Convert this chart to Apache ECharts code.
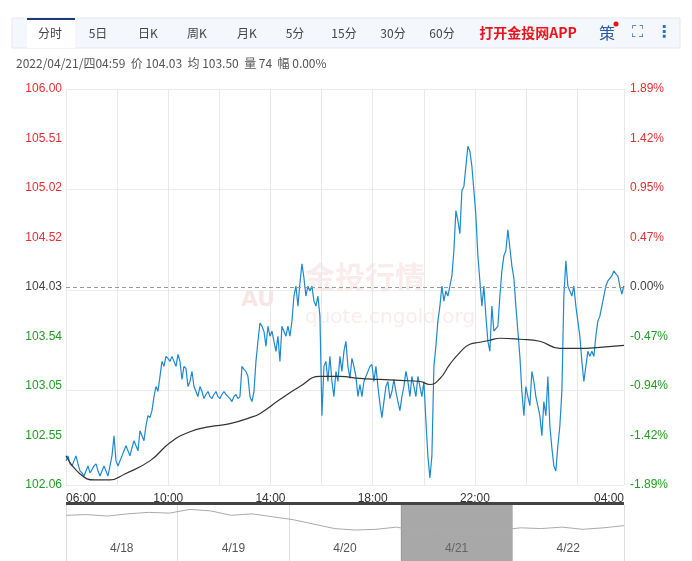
<!DOCTYPE html>
<html><head><meta charset="utf-8">
<script src="https://cdn.jsdelivr.net/npm/echarts@6/dist/echarts.min.js"></script>
<style>html,body{margin:0;padding:0;background:#fff}#c{width:692px;height:561px}</style>
</head><body><div id="c"></div>
<script>
var basePrice = 104.03;
var yTicks = [102.06,102.55,103.05,103.54,104.03,104.52,105.02,105.51,106.00];
var xTickMinutes = [0,240,480,720,960,1310];
var xTickLabels = ['06:00','10:00','14:00','18:00','22:00','04:00'];
var sampleStepMin = 4.694;
var prices = [102.30,102.35,102.27,102.25,102.30,102.35,102.27,102.20,102.18,102.15,102.20,102.25,102.18,102.18,102.25,102.27,102.20,102.15,102.20,102.25,102.20,102.15,102.25,102.35,102.55,102.30,102.25,102.30,102.35,102.40,102.45,102.40,102.35,102.43,102.50,102.45,102.40,102.60,102.55,102.50,102.65,102.75,102.73,102.80,102.94,103.04,102.99,103.14,103.29,103.24,103.34,103.32,103.29,103.34,103.29,103.24,103.36,103.29,103.11,103.24,103.22,103.04,103.09,103.19,103.04,102.99,102.94,103.04,102.99,102.92,102.96,102.99,102.94,102.92,102.96,102.99,102.94,102.92,102.96,102.99,102.96,102.94,102.92,102.89,102.94,102.96,102.92,102.94,103.24,103.21,103.19,103.14,102.94,102.89,102.99,103.29,103.49,103.67,103.64,103.59,103.44,103.64,103.54,103.59,103.49,103.39,103.54,103.29,103.64,103.59,103.54,103.64,103.54,103.69,103.94,104.04,103.84,104.07,104.26,104.12,103.94,104.04,103.99,104.04,103.89,103.84,103.94,103.74,102.75,103.24,103.29,103.09,103.34,103.09,102.94,103.19,103.09,103.34,103.19,103.39,103.49,103.24,103.12,103.32,103.24,103.14,102.94,103.06,102.94,103.09,103.14,103.19,103.24,103.26,103.09,103.24,103.04,102.87,102.73,102.89,103.04,103.09,102.92,102.99,103.11,102.99,102.89,102.80,102.94,103.04,103.19,103.09,102.94,103.14,103.04,102.94,103.14,103.04,102.94,103.09,102.70,102.35,102.13,102.35,103.24,103.44,103.69,103.84,104.04,103.89,103.99,103.94,104.04,104.14,104.39,104.79,104.69,104.56,104.99,105.03,105.23,105.43,105.38,105.23,104.99,104.74,104.34,104.09,103.84,104.04,103.74,103.49,103.39,103.84,103.59,103.59,103.64,103.94,104.19,104.34,104.39,104.60,104.42,104.24,104.12,103.84,103.59,103.34,102.99,102.75,103.04,102.94,102.85,103.19,103.09,102.94,102.94,102.75,102.55,102.89,102.75,103.14,102.65,102.43,102.25,102.20,102.45,102.65,102.99,103.94,104.29,104.04,103.99,103.94,104.04,103.84,103.69,103.54,103.29,103.09,103.24,103.39,103.34,103.39,103.34,103.54,103.69,103.74,103.84,103.94,104.04,104.09,104.09,104.14,104.19,104.16,104.14,104.04,103.96,104.04];
var avgMinutes = [0,33,68,103,138,197,244,291,338,385,432,455,502,549,596,643,690,737,784,831,854,878,901,925,948,972,995,1019,1066,1112,1159,1206,1253,1310];
var avgPrices = [102.35,102.17,102.11,102.11,102.17,102.30,102.48,102.59,102.64,102.67,102.73,102.77,102.91,103.04,103.14,103.14,103.12,103.11,103.10,103.09,103.06,103.12,103.26,103.38,103.46,103.48,103.50,103.52,103.51,103.49,103.42,103.42,103.43,103.45];
var navDays = ['4/18','4/19','4/20','4/21','4/22'];
var navPrices = [104.9,104.95,104.85,105.0,105.1,105.05,105.3,105.2,104.9,105.0,104.8,104.6,104.3,104.0,103.9,103.95,104.1,103.8,104.0,103.7,103.85,103.9,104.05,104.0,104.1,103.95,104.05,104.2];

var priceData = prices.map(function(p,i){return [i*sampleStepMin,p];});
var avgData = avgMinutes.map(function(m,i){return [m,avgPrices[i]];});
var navData = navPrices.map(function(p,i){return [i*5/(navPrices.length-1),p];});
function col(v){var d=Math.round((v-basePrice)*100);return d>0?'#e03030':(d<0?'#1e9e1e':'#444');}

var chart = echarts.init(document.getElementById('c'));
var font='"Microsoft YaHei","Noto Sans CJK SC",sans-serif';
var tabs=[['分时',50],['5日',98],['日K',148],['周K',197],['月K',247],['5分',295],['15分',344],['30分',393],['60分',442]];
var g=[{type:'rect',shape:{x:12,y:18,width:668,height:30},style:{fill:'#f4f7fb',stroke:'#e4e9f0'}},
 {type:'rect',shape:{x:27,y:19,width:48,height:29},style:{fill:'#fff'}},
 {type:'rect',shape:{x:27,y:18,width:48,height:2},style:{fill:'#1a3a7a'}}];
tabs.forEach(function(t){g.push({type:'text',x:t[1],y:33,style:{text:t[0],fill:'#444',font:'12px '+font,align:'center',verticalAlign:'middle'}});});
g.push({type:'text',x:528,y:33,style:{text:'打开金投网APP',fill:'#e8141b',font:'bold 14px '+font,align:'center',verticalAlign:'middle'}});
g.push({type:'text',x:607,y:33,style:{text:'策',fill:'#2a5aa8',font:'16px '+font,align:'center',verticalAlign:'middle'}});
g.push({type:'circle',shape:{cx:616,cy:24,r:2.5},style:{fill:'#e8141b'}});
g.push({type:'text',x:637,y:33,style:{text:'⛶',fill:'#2a6fc0',font:'16px "DejaVu Sans"',align:'center',verticalAlign:'middle'}});
g.push({type:'text',x:664,y:33,style:{text:'⋮',fill:'#2a6fc0',font:'bold 16px "DejaVu Sans"',align:'center',verticalAlign:'middle'}});
g.push({type:'text',x:16,y:63,style:{text:'2022/04/21/四04:59  价 104.03  均 103.50  量 74  幅 0.00%',fill:'#555',font:'12px '+font,verticalAlign:'middle'}});
g.push({type:'text',x:305,y:277,style:{text:'金投行情',fill:'rgba(230,150,150,0.18)',font:'bold 30px '+font,verticalAlign:'middle'}});
g.push({type:'text',x:305,y:318,style:{text:'quote.cngold.org',fill:'rgba(230,150,150,0.18)',font:'20px "DejaVu Sans"',verticalAlign:'middle'}});
g.push({type:'text',x:258,y:300,style:{text:'AU',fill:'rgba(230,150,150,0.25)',font:'bold 22px "DejaVu Sans"',align:'center',verticalAlign:'middle'}});
g.push({type:'rect',shape:{x:66,y:502,width:558,height:3},style:{fill:'#444'}});

chart.setOption({
 animation:false,
 graphic:g,
 grid:[{left:66,right:68,top:89,bottom:76,outerBoundsMode:'none'},{left:66,right:68,top:505,bottom:0,outerBoundsMode:'none'}],
 xAxis:[{type:'value',min:0,max:1310,interval:120,gridIndex:0,
   axisLine:{show:false},axisTick:{show:false},
   splitLine:{show:true,lineStyle:{color:'#e8e8e8'}},
   axisLabel:{customValues:xTickMinutes,color:'#333',fontSize:12,margin:8,alignMinLabel:'left',alignMaxLabel:'right',
     formatter:function(v){var i=xTickMinutes.indexOf(v);return i>=0?xTickLabels[i]:'';}}},
  {type:'value',min:0,max:5,interval:1,gridIndex:1,axisLine:{show:false},axisTick:{show:false},
   splitLine:{show:true,lineStyle:{color:'#ddd'}},
   axisLabel:{inside:true,customValues:[0.5,1.5,2.5,3.5,4.5],color:'#555',fontSize:12,margin:6,
     formatter:function(v){return navDays[Math.floor(v)];}}}],
 yAxis:[{type:'value',min:102.06,max:106.00,gridIndex:0,position:'left',
   axisLine:{show:false},axisTick:{show:false},
   splitLine:{show:true,lineStyle:{color:'#ececec'}},
   axisLabel:{customValues:yTicks,fontSize:12,margin:4,formatter:function(v){return v.toFixed(2);},color:function(v){return col(+v);}}},
  {type:'value',min:102.06,max:106.00,gridIndex:0,position:'right',
   axisLine:{show:false},axisTick:{show:false},splitLine:{show:false},
   axisLabel:{customValues:yTicks,fontSize:12,margin:6,color:function(v){return col(+v);},
    formatter:function(v){return ((v-basePrice)/basePrice*100).toFixed(2)+'%';}}},
  {type:'value',gridIndex:1,min:101.8,max:105.6,show:false}],
 series:[
  {type:'line',data:priceData,showSymbol:false,lineStyle:{color:'#1e88d0',width:1.2},
   markLine:{silent:true,symbol:'none',label:{show:false},lineStyle:{color:'#999',type:[4,3],width:1},data:[{yAxis:basePrice}]}},
  {type:'line',data:avgData,showSymbol:false,smooth:true,lineStyle:{color:'#333',width:1.2}},
  {type:'line',data:navData,xAxisIndex:1,yAxisIndex:2,showSymbol:false,lineStyle:{color:'#aaa',width:1},
   markArea:{silent:true,itemStyle:{color:'rgba(110,110,110,0.6)'},data:[[{xAxis:3},{xAxis:4}]]}}
 ]
});
</script></body></html>
